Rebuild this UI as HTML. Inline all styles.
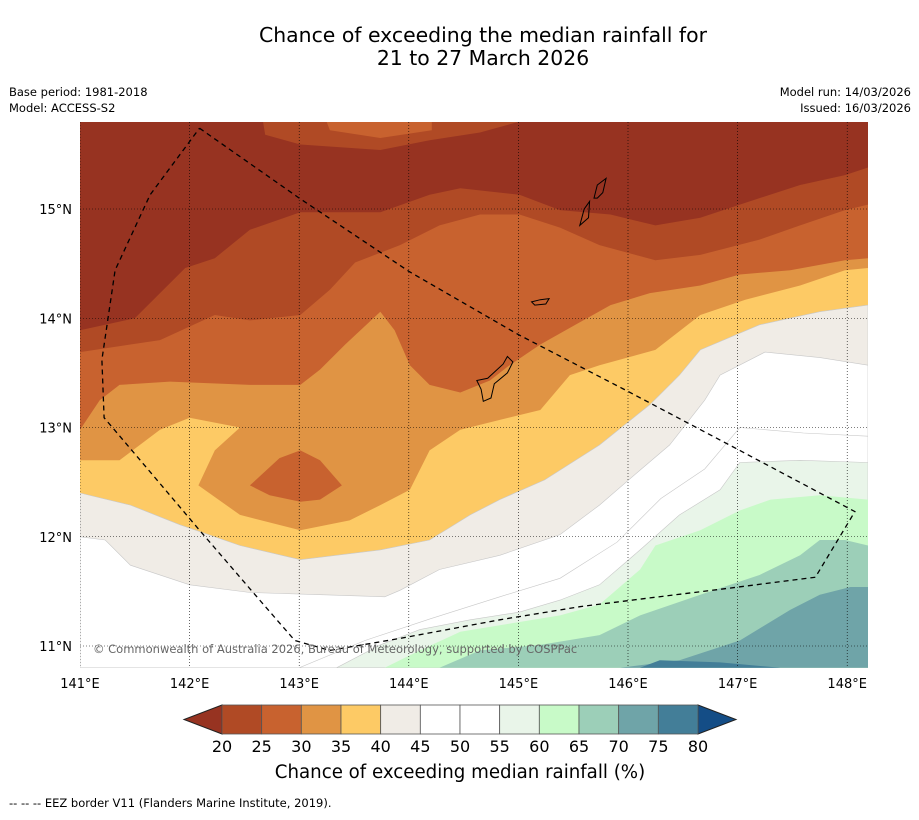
<!DOCTYPE html>
<html><head><meta charset="utf-8">
<style>
html,body{margin:0;padding:0;background:#fff;}
body{width:919px;height:816px;overflow:hidden;font-family:"DejaVu Sans","Liberation Sans",sans-serif;}
svg text{font-family:"DejaVu Sans","Liberation Sans",sans-serif;fill:#000;}
</style></head>
<body>
<svg id="chart" width="919" height="816" viewBox="0 0 919 816" xmlns="http://www.w3.org/2000/svg">
<text x="483" y="42" font-size="20.4" text-anchor="middle">Chance of exceeding the median rainfall for</text>
<text x="483" y="65" font-size="20.4" text-anchor="middle">21 to 27 March 2026</text>
<text x="9" y="96" font-size="11.5">Base period: 1981-2018</text>
<text x="9" y="112" font-size="11.5">Model: ACCESS-S2</text>
<text x="911" y="96" font-size="11.5" text-anchor="end">Model run: 14/03/2026</text>
<text x="911" y="112" font-size="11.5" text-anchor="end">Issued: 16/03/2026</text>
<defs><clipPath id="mapclip"><rect x="80" y="122" width="788" height="546"/></clipPath></defs>
<g id="map" clip-path="url(#mapclip)"></g>
<g id="axes"></g>
<text x="93" y="653" font-size="11.5" style="fill:#666">© Commonwealth of Australia 2026, Bureau of Meteorology, supported by COSPPac</text>
<g id="cbar"></g>
<text x="460" y="778" font-size="18.2" text-anchor="middle">Chance of exceeding median rainfall (%)</text>
<text x="9" y="807" font-size="11.5">--  --  -- EEZ border V11 (Flanders Marine Institute, 2019).</text>
</svg>
<script>
// ---- data ----
const lonTicks = [141,142,143,144,145,146,147,148];
const latTicks = [11,12,13,14,15];
const levels = [20,25,30,35,40,45,50,55,60,65,70,75,80];
const levelColors = ["#b04a25","#c8622f","#e09444","#fdca65","#f0ece6","#ffffff","#ffffff","#e9f5e9","#c8fac8","#9ccfb8","#6fa4a8","#437e98"];
const underColor = "#973321", overColor = "#144d86";
const band20 = [[141,13.89],[141.5,14.0],[141.96,14.46],[142.23,14.55],[142.55,14.81],[143.01,14.97],[143.74,14.97],[144.19,15.13],[144.47,15.19],[145.01,15.13],[145.38,14.99],[145.84,14.95],[146.25,14.85],[146.66,14.92],[147.02,15.04],[147.57,15.22],[147.98,15.31],[148.19,15.38]];
const band25 = [[141,13.69],[141.73,13.80],[142.23,14.03],[142.55,13.98],[143.01,14.03],[143.28,14.26],[143.51,14.51],[143.92,14.67],[144.28,14.85],[144.65,14.95],[145.01,14.95],[145.38,14.83],[145.74,14.67],[146.25,14.53],[146.66,14.58],[147.2,14.72],[147.57,14.85],[147.98,14.99],[148.19,15.04]];
const band30 = [[141,12.98],[141.18,13.25],[141.36,13.39],[141.82,13.42],[142.55,13.39],[143.01,13.39],[143.19,13.53],[143.42,13.76],[143.74,14.06],[143.87,13.89],[144.01,13.57],[144.19,13.39],[144.47,13.32],[144.74,13.43],[144.92,13.57],[145.2,13.76],[145.52,13.94],[145.84,14.12],[146.2,14.23],[146.66,14.30],[147.02,14.40],[147.48,14.44],[147.98,14.53],[148.19,14.55]];
const band35 = [[141,12.70],[141.36,12.70],[141.73,12.98],[142.0,13.09],[142.46,13.0],[142.23,12.79],[142.08,12.47],[142.46,12.20],[143.01,12.06],[143.46,12.15],[143.74,12.29],[144.01,12.43],[144.19,12.79],[144.47,12.98],[144.83,13.07],[145.2,13.16],[145.47,13.48],[145.74,13.57],[146.25,13.71],[146.66,14.03],[147.07,14.17],[147.57,14.30],[147.98,14.44],[148.19,14.46]];
const band40 = [[141,12.40],[141.46,12.29],[141.91,12.11],[142.46,11.92],[143.01,11.79],[143.74,11.88],[144.19,11.97],[144.56,12.20],[144.83,12.34],[145.24,12.52],[145.74,12.84],[146.2,13.21],[146.47,13.48],[146.66,13.71],[147.2,13.94],[147.75,14.06],[148.19,14.12]];
const band45 = [[141,12.0],[141.23,11.97],[141.46,11.74],[142.0,11.56],[142.55,11.49],[143.19,11.47],[143.78,11.45],[143.92,11.51],[144.28,11.70],[144.83,11.83],[145.38,12.02],[145.74,12.29],[146.11,12.61],[146.38,12.84],[146.70,13.25],[146.84,13.48],[147.25,13.69],[147.75,13.64],[148.19,13.57]];
const band50 = [[143.0,10.80],[143.6,11.05],[144.2,11.25],[144.83,11.45],[145.38,11.62],[145.9,11.95],[146.3,12.35],[146.7,12.62],[147.02,13.0],[147.6,12.95],[148.19,12.92]];
const band55 = [[143.34,10.80],[143.74,11.01],[144.10,11.15],[144.56,11.24],[145.01,11.31],[145.38,11.42],[145.74,11.56],[146.11,11.88],[146.47,12.20],[146.84,12.43],[147.02,12.68],[147.57,12.70],[148.19,12.68]];
const band60 = [[143.78,10.80],[144.10,10.96],[144.47,11.13],[144.83,11.19],[145.38,11.28],[145.74,11.38],[146.11,11.70],[146.25,11.92],[146.66,12.06],[147.02,12.24],[147.30,12.34],[147.75,12.38],[148.19,12.34]];
const band65 = [[144.28,10.80],[144.65,10.96],[145.2,11.01],[145.74,11.10],[146.11,11.28],[146.66,11.47],[147.2,11.65],[147.57,11.83],[147.75,11.97],[147.98,11.97],[148.19,11.92]];
const band70 = [[145.93,10.80],[146.47,10.87],[147.02,11.05],[147.48,11.33],[147.75,11.47],[148.03,11.54],[148.19,11.54]];
const band75 = [[146.11,10.80],[146.29,10.87],[146.84,10.85],[147.39,10.80]];
const topBlob20 = [[142.67,15.80],[142.69,15.68],[143.01,15.59],[143.74,15.54],[144.19,15.63],[144.65,15.70],[145.01,15.80]];
const topBlob25 = [[143.25,15.80],[143.28,15.72],[143.74,15.65],[144.21,15.72],[144.21,15.80]];
const midBlob25 = [[142.55,12.47],[142.82,12.72],[143.01,12.79],[143.19,12.70],[143.39,12.47],[143.19,12.34],[143.01,12.32],[142.73,12.38]];
const eezBorder = [[142.09,15.74],[143.0,15.10],[144.0,14.43],[145.0,13.85],[146.0,13.33],[147.0,12.80],[148.07,12.23],[147.71,11.63],[146.93,11.53],[146.2,11.44],[145.56,11.36],[144.83,11.24],[143.92,11.07],[143.28,10.96],[142.96,11.05],[142.64,11.42],[142.09,12.06],[141.55,12.70],[141.22,13.09],[141.20,13.62],[141.32,14.44],[141.64,15.13],[142.09,15.74]];
const islands = [
 [[144.62,13.43],[144.72,13.45],[144.86,13.58],[144.9,13.65],[144.95,13.6],[144.9,13.5],[144.78,13.4],[144.75,13.27],[144.68,13.24],[144.66,13.35]],
 [[145.12,14.15],[145.2,14.17],[145.28,14.18],[145.25,14.13],[145.15,14.12]],
 [[145.56,14.85],[145.6,15.0],[145.65,15.07],[145.64,14.92]],
 [[145.69,15.1],[145.72,15.22],[145.8,15.28],[145.77,15.15],[145.72,15.1]]
];
// ---- scales ----
const X = lon => 80 + (lon-141)*109.6;
const Y = lat => 209 + (15-lat)*109.25;
const NS = "http://www.w3.org/2000/svg";
const map = document.getElementById('map');
function mk(tag, attrs, parent){const e=document.createElementNS(NS,tag);for(const k in attrs)e.setAttribute(k,attrs[k]);parent.appendChild(e);return e;}
function pts(a){return a.map(p=>X(p[0]).toFixed(1)+','+Y(p[1]).toFixed(1)).join(' ');}
let bg = mk('rect',{x:80,y:122,width:788,height:546,fill:underColor},map);


const bands = [[band20,0,'left'],[band25,1,'left'],[band30,2,'left'],[band35,3,'left'],[band40,4,'left'],[band45,5,'left'],[band50,6,'bottom'],[band55,7,'bottom'],[band60,8,'bottom'],[band65,9,'bottom'],[band70,10,'bottom'],[band75,11,'bottom']];
bands.forEach(b=>{
  let p = b[0].slice();
  if(b[2]==='left'){p.push([148.19,10.8],[141,10.8]);}
  else if(b[0]!==band75){p.push([148.19,10.8]);}
  const el = mk('polygon',{points:pts(p),fill:levelColors[b[1]],stroke:b[1]>=4&&b[1]<=7?'#c8c8c8':'none','stroke-width':0.6},map);
  
  
});
[[topBlob20,0],[topBlob25,1],[midBlob25,1]].forEach((b,i)=>{
  const el = mk('polygon',{points:pts(b[0]),fill:levelColors[b[1]]},map);
  
  
});
islands.forEach((isl,i)=>{
  const el = mk('polygon',{points:pts(isl),fill:'none',stroke:'#000','stroke-width':1},map);
  
  
});
const ax = document.getElementById('axes');
lonTicks.forEach(l=>{
  const g = mk('line',{x1:X(l),x2:X(l),y1:122,y2:668,stroke:'#000','stroke-width':0.6,'stroke-dasharray':'1,2'},map);
  
  
  const t = mk('text',{x:X(l),y:688,'font-size':13,'text-anchor':'middle'},ax);
  t.textContent = l+'°E';
  
  
});
latTicks.forEach(l=>{
  const g = mk('line',{x1:80,x2:868,y1:Y(l),y2:Y(l),stroke:'#000','stroke-width':0.6,'stroke-dasharray':'1,2'},map);
  
  
  const t = mk('text',{x:72,y:Y(l)+5,'font-size':13,'text-anchor':'end'},ax);
  t.textContent = l+'°N';
  
  
});
const eez = mk('polyline',{points:pts(eezBorder),fill:'none',stroke:'#000','stroke-width':1.3,'stroke-dasharray':'5,4'},map);


// colorbar
const cb = document.getElementById('cbar');
const cx0=222, cx1=698, cy0=705, cy1=734, w=(cx1-cx0)/levelColors.length;
let la = mk('polygon',{points:`${cx0},${cy0} ${cx0},${cy1} 184,${(cy0+cy1)/2}`,fill:underColor,stroke:'#222','stroke-width':1},cb);


let ra = mk('polygon',{points:`${cx1},${cy0} ${cx1},${cy1} 736,${(cy0+cy1)/2}`,fill:overColor,stroke:'#222','stroke-width':1},cb);


levelColors.forEach((c,i)=>{
  const r = mk('rect',{x:cx0+i*w,y:cy0,width:w,height:cy1-cy0,fill:c,stroke:'#555','stroke-width':0.8},cb);
  
  
});
levels.forEach((v,i)=>{
  const t = mk('text',{x:cx0+i*w,y:752,'font-size':16,'text-anchor':'middle'},cb);
  t.textContent = v;
  
  
});
</script>
</body></html>
